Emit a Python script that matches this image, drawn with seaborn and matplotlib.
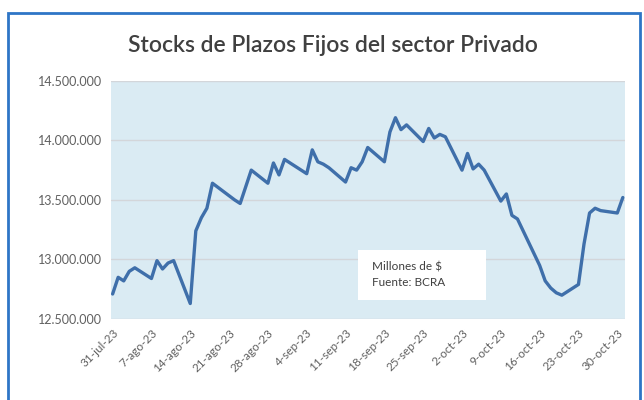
import pandas as pd
import matplotlib.pyplot as plt
from matplotlib.patches import Rectangle
import seaborn as sns

fechas = ["2023-07-31", "2023-08-01", "2023-08-02", "2023-08-03", "2023-08-04",
          "2023-08-07", "2023-08-08", "2023-08-09", "2023-08-10", "2023-08-11",
          "2023-08-14", "2023-08-15", "2023-08-16", "2023-08-17", "2023-08-18",
          "2023-08-22", "2023-08-23", "2023-08-24", "2023-08-25",
          "2023-08-28", "2023-08-29", "2023-08-30", "2023-08-31", "2023-09-01",
          "2023-09-04", "2023-09-05", "2023-09-06", "2023-09-07", "2023-09-08",
          "2023-09-11", "2023-09-12", "2023-09-13", "2023-09-14", "2023-09-15",
          "2023-09-18", "2023-09-19", "2023-09-20", "2023-09-21", "2023-09-22",
          "2023-09-25", "2023-09-26", "2023-09-27", "2023-09-28", "2023-09-29",
          "2023-10-02", "2023-10-03", "2023-10-04", "2023-10-05", "2023-10-06",
          "2023-10-09", "2023-10-10", "2023-10-11", "2023-10-12",
          "2023-10-16", "2023-10-17", "2023-10-18", "2023-10-19", "2023-10-20",
          "2023-10-23", "2023-10-24", "2023-10-25", "2023-10-26", "2023-10-27",
          "2023-10-30", "2023-10-31"]

stock = [12710000, 12850000, 12820000, 12900000, 12930000,
         12840000, 12990000, 12920000, 12970000, 12990000,
         12630000, 13240000, 13350000, 13430000, 13640000,
         13500000, 13470000, 13610000, 13750000,
         13640000, 13810000, 13710000, 13840000, 13810000,
         13720000, 13920000, 13820000, 13800000, 13770000,
         13650000, 13770000, 13750000, 13820000, 13940000,
         13820000, 14070000, 14190000, 14090000, 14130000,
         13990000, 14100000, 14020000, 14050000, 14030000,
         13750000, 13890000, 13760000, 13800000, 13750000,
         13490000, 13550000, 13370000, 13340000,
         12950000, 12820000, 12760000, 12720000, 12700000,
         12790000, 13130000, 13390000, 13430000, 13410000,
         13390000, 13520000]

tick_fechas = ["2023-07-31", "2023-08-07", "2023-08-14", "2023-08-21", "2023-08-28",
               "2023-09-04", "2023-09-11", "2023-09-18", "2023-09-25", "2023-10-02",
               "2023-10-09", "2023-10-16", "2023-10-23", "2023-10-30"]
tick_labels = ["31-jul-23", "7-ago-23", "14-ago-23", "21-ago-23", "28-ago-23",
               "4-sep-23", "11-sep-23", "18-sep-23", "25-sep-23", "2-oct-23",
               "9-oct-23", "16-oct-23", "23-oct-23", "30-oct-23"]
y_ticks = [12500000, 13000000, 13500000, 14000000, 14500000]

df = pd.DataFrame({"fecha": pd.to_datetime(fechas), "stock": stock})

sns.set_style("white")
plt.rcParams['font.family'] = ['Lato', 'DejaVu Sans']

fig = plt.figure(figsize=(6.44, 4.0), dpi=100)
ax = fig.add_axes([0.172, 0.2025, 0.798, 0.5955])
ax.set_facecolor("#daebf3")

sns.lineplot(data=df, x="fecha", y="stock", ax=ax, color="#3f6faa", linewidth=2.4, zorder=3)

ax.set_ylim(12500000, 14500000)
ax.set_yticks(y_ticks)
ax.set_yticklabels([f"{v:,}".replace(",", ".") for v in y_ticks], color="#606060", fontsize=9)
ax.yaxis.grid(True, color="#d3d6da", linewidth=1)
ax.set_axisbelow(True)

x0 = pd.Timestamp("2023-07-31") - pd.Timedelta(hours=8)
x1 = pd.Timestamp("2023-10-31") + pd.Timedelta(hours=8)
ax.set_xlim(x0, x1)
ax.set_xticks(pd.to_datetime(tick_fechas))
ax.set_xticklabels(tick_labels, rotation=45, ha="right", rotation_mode="anchor",
                   color="#606060", fontsize=8.5)
ax.tick_params(axis="both", length=0, pad=6)
ax.set_xlabel("")
ax.set_ylabel("")
for s in ax.spines.values():
    s.set_visible(False)

fig.text(0.517, 0.887, "Stocks de Plazos Fijos del sector Privado", ha="center", va="center",
         fontsize=16.5, color="#404040", fontweight="semibold")

# cuadro de fuente
ax.add_patch(Rectangle((0.482, 0.08), 0.248, 0.21, transform=ax.transAxes,
                       facecolor="white", edgecolor="none", zorder=2))
ax.text(0.508, 0.185, "Millones de $\nFuente: BCRA", transform=ax.transAxes, ha="left", va="center",
        fontsize=8.5, color="#404040", linespacing=1.45, zorder=4)

fig.add_artist(Rectangle((8 / 644, -0.05), 632 / 644, 1.05 - 13 / 400, transform=fig.transFigure,
                         fill=False, edgecolor="#2e75c6", linewidth=2))

fig.savefig("out.png", dpi=100)
